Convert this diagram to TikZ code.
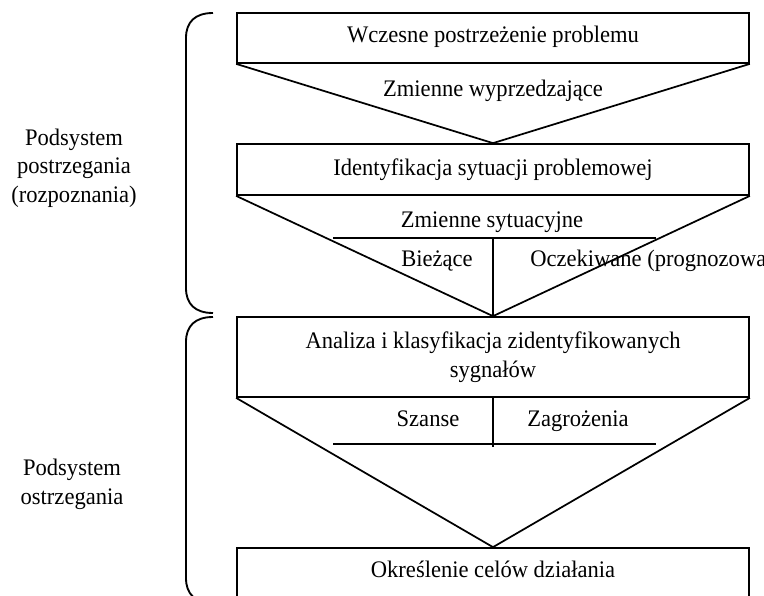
\documentclass[tikz,border=0pt]{standalone}
\usepackage{fontspec}
\setmainfont{Liberation Serif}[FakeStretch=0.95]
\begin{document}
\begin{tikzpicture}[x=0.75pt,y=-0.75pt,
  every node/.style={font=\fontsize{17.8}{21.5}\selectfont, inner sep=0pt},
  box/.style={draw, line width=1.3pt, minimum width=384pt, align=center},
  ln/.style={line width=1.3pt, line join=miter},
  brace/.style={line width=1.4pt},
  lbl/.style={align=center},
  txt/.style={anchor=base}]
\useasboundingbox (0,0) rectangle (764,596);
\clip (0,0) rectangle (764,596);
% boxes
\node[box, minimum height=37.5pt, text height=0.85em, text depth=0.25em] (b1) at (493,38) {Wczesne postrzeżenie problemu};
\node[box, minimum height=38.25pt, text height=1.1em, text depth=0.13em] (b2) at (493,169.5) {Identyfikacja sytuacji problemowej};
\node[box, minimum height=60pt] (b3) at (493,357) {Analiza i klasyfikacja zidentyfikowanych\\sygnałów};
\node[box, minimum height=37.5pt, text height=0.85em, text depth=0.25em] (b4) at (493,573) {Określenie celów działania};
% triangles
\draw[ln] (b1.south west) -- (b2.north) -- (b1.south east);
\draw[ln] (b2.south west) -- (b3.north) -- (b2.south east);
\draw[ln] (b3.south west) -- (b4.north) -- (b3.south east);
% inner lines triangle 2
\coordinate (h2l) at (333,238);
\coordinate (h2r) at (656,238);
\coordinate (h2m) at (b3.north |- h2l);
\draw[ln] (h2l) -- (h2r);
\draw[ln] (h2m) -- (b3.north);
% inner lines triangle 3
\coordinate (h3l) at (333,444);
\coordinate (h3r) at (656,444);
\coordinate (h3e) at (493,447);
\draw[ln] (h3l) -- (h3r);
\draw[ln] (b3.south) -- (h3e);
% texts
\node[txt] (t1) at (493,96) {Zmienne wyprzedzające};
\node[txt] (t2) at (492,227) {Zmienne sytuacyjne};
\node[txt] (t3) at (437,266.5) {Bieżące};
\node[anchor=base west] (t4) at (530,266.5) {Oczekiwane (prognozowane)};
\node[txt] (t5) at (428,426.5) {Szanse};
\node[txt] (t6) at (578,426.5) {Zagrożenia};
% braces
\draw[brace] (213,13) .. controls (195,13) and (186,22) .. (186,38) -- (186,288) .. controls (186,304) and (195,313) .. (213,313);
\draw[brace] (213,317) .. controls (195,317) and (186,326) .. (186,342) -- (186,578) .. controls (186,594) and (195,603) .. (213,603);
% labels
\node[lbl] (l1) at (74,168) {Podsystem\\postrzegania\\(rozpoznania)};
\node[lbl] (l2) at (72,484) {Podsystem\\ostrzegania};
\end{tikzpicture}
\end{document}
